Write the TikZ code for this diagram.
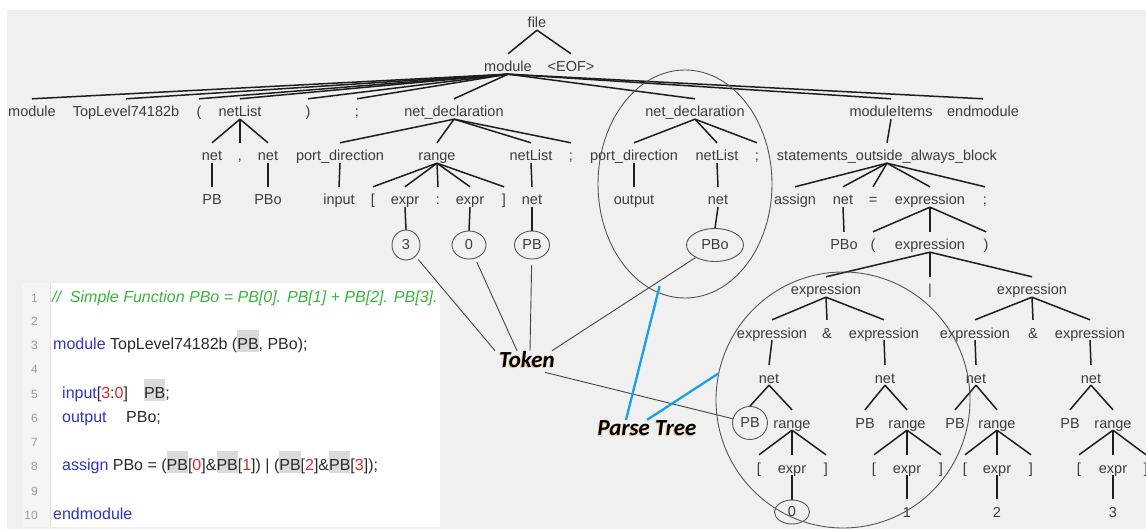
\documentclass[tikz,border=0pt]{standalone}
\usepackage{fontspec}
\setmainfont{Liberation Sans}
\newfontfamily\calibri{Carlito}
\usetikzlibrary{shapes.geometric}

\definecolor{bg}{HTML}{F0F0F0}
\definecolor{ink}{HTML}{3C3C3C}
\definecolor{edge}{HTML}{1E1E1E}
\definecolor{ring}{HTML}{555555}
\definecolor{tokc}{HTML}{444444}
\definecolor{kw}{HTML}{3232C8}
\definecolor{cm}{HTML}{3CB43C}
\definecolor{num}{HTML}{DC2828}
\definecolor{idf}{HTML}{2A2A2A}
\definecolor{lno}{HTML}{9A9A9A}
\definecolor{hlgray}{HTML}{DADADA}
\definecolor{gutter}{HTML}{F5F5F5}
\definecolor{gutline}{HTML}{E2E2E2}
\definecolor{skyline}{HTML}{1BA1E2}
\definecolor{glow}{HTML}{F0A030}

\newcommand\treefont{\fontsize{14.5pt}{17pt}\selectfont}
\newcommand\kwd[1]{\textcolor{kw}{#1}}
\newcommand\nmb[1]{\textcolor{num}{#1}}
\newcommand\hlbox[1]{{\setlength{\fboxsep}{0pt}\colorbox{hlgray}{\rule[-3pt]{0pt}{22pt}#1}}}

\begin{document}
\begin{tikzpicture}[x=1pt,y=1pt,
  tn/.style={anchor=base, inner sep=0pt, text height=18pt, text depth=2pt, text=ink, font=\treefont},
  lf/.style={ellipse, draw=ring, line width=0.9pt, inner sep=0pt, text=ink, font=\treefont},
  group/.style={ellipse, draw=ring, line width=0.9pt, inner sep=0pt},
  tedge/.style={draw=edge, line width=1.5pt},
  tokline/.style={draw=tokc, line width=0.9pt},
  blueline/.style={draw=skyline, line width=2.3pt},
  lbl/.style={anchor=base, inner sep=0pt, font=\calibri\bfseries\itshape\fontsize{23pt}{26pt}\selectfont},
  code/.style={anchor=base west, inner sep=0pt, text=idf, font=\fontsize{16pt}{19pt}\selectfont},
  lnum/.style={anchor=base east, inner sep=0pt, text=lno, font=\fontsize{12pt}{14pt}\selectfont}]

\useasboundingbox (0,0) rectangle (1146,-529);
\clip (0,0) rectangle (1146,-529);

% canvas
\fill[white] (0,0) rectangle (1146,-529);
\fill[bg] (7,-10) rectangle (1146,-529);

% source code panel
\fill[white] (22,-283) rectangle (440,-527);
\fill[gutter] (22,-283) rectangle (50,-527);
\draw[gutline] (50,-283) -- (50,-527);
\foreach \n/\y in {1/303,2/326,3/349,4/373,5/398,6/422,7/446,8/470,9/495,10/519}
  \node[lnum] (ln\n) at (38,-\y) {\n};
\node[code] (cl1) at (52,-303) {\textcolor{cm}{\itshape //\ \ Simple Function PBo = PB[0]. PB[1] + PB[2]. PB[3].}};
\node[code] (cl3) at (53,-349) {\kwd{module} TopLevel74182b (\hlbox{PB}, PBo);};
\node[code] (cl5) at (62,-398) {\kwd{input}[\nmb{3}:\nmb{0}]\hspace{16pt}\hlbox{PB};};
\node[code] (cl6) at (62,-422) {\kwd{output}\hspace{19.5pt}PBo;};
\node[code] (cl8) at (62,-470) {\kwd{assign} PBo = (\hlbox{PB}[\nmb{0}]\&\hlbox{PB}[\nmb{1}]) | (\hlbox{PB}[\nmb{2}]\&\hlbox{PB}[\nmb{3}]);};
\node[code] (cl10) at (53,-519) {\kwd{endmodule}};

% parse tree: labels (positioned on their baselines)
\node[tn] (file) at (537,-28) {file};
\node[tn] (mod) at (508,-72) {module};
\node[tn] (eof) at (571,-72) {<EOF>};

\node[tn] (m0)  at (32,-117) {module};
\node[tn] (top) at (126,-117) {TopLevel74182b};
\node[tn] (lp)  at (199,-117) {(};
\node[tn] (nl)  at (240,-117) {netList};
\node[tn] (rp)  at (308,-117) {)};
\node[tn] (sc0) at (357,-117) {;};
\node[tn] (nd1) at (454,-117) {net\_declaration};
\node[tn] (nd2) at (695,-117) {net\_declaration};
\node[tn] (mi)  at (891,-117) {moduleItems};
\node[tn] (em)  at (983,-117) {endmodule};

\node[tn] (n1)  at (212,-161) {net};
\node[tn] (cm1) at (240,-161) {,};
\node[tn] (n2)  at (268,-161) {net};
\node[tn] (pd1) at (340,-161) {port\_direction};
\node[tn] (rg)  at (437,-161) {range};
\node[tn] (nl1) at (531,-161) {netList};
\node[tn] (sc1) at (571,-161) {;};
\node[tn] (pd2) at (634,-161) {port\_direction};
\node[tn] (nl2) at (717,-161) {netList};
\node[tn] (sc2) at (757,-161) {;};
\node[tn] (sob) at (887,-161) {statements\_outside\_always\_block};

\node[tn] (pb1)  at (212,-205) {PB};
\node[tn] (pbo1) at (268,-205) {PBo};
\node[tn] (inp)  at (339,-205) {input};
\node[tn] (lb)   at (373,-205) {[};
\node[tn] (ex1)  at (405,-205) {expr};
\node[tn] (col)  at (438,-205) {:};
\node[tn] (ex2)  at (470,-205) {expr};
\node[tn] (rb)   at (504,-205) {]};
\node[tn] (nt1)  at (532,-205) {net};
\node[tn] (outp) at (634,-205) {output};
\node[tn] (nt2)  at (718,-205) {net};
\node[tn] (asg)  at (795,-205) {assign};
\node[tn] (nt3)  at (843,-205) {net};
\node[tn] (eq)   at (873,-205) {=};
\node[tn] (xp0)  at (930,-205) {expression};
\node[tn] (sc3)  at (985,-205) {;};

\node[lf, minimum width=28pt, minimum height=30pt] (c3) at (406,-245) {3};
\node[lf, minimum width=34pt, minimum height=28pt] (c0) at (469,-245) {0};
\node[lf, minimum width=35pt, minimum height=28pt] (cpb) at (532,-245) {PB};
\node[lf, minimum width=57pt, minimum height=33pt] (cpbo) at (715,-245) {PBo};
\node[tn] (pbo2) at (844,-250) {PBo};
\node[tn] (lp2)  at (873,-250) {(};
\node[tn] (xp1)  at (930,-250) {expression};
\node[tn] (rp2)  at (986,-250) {)};

\node[tn] (xpa) at (826,-295) {expression};
\node[tn] (bar) at (930,-295) {|};
\node[tn] (xpb) at (1032,-295) {expression};

\node[tn] (xaa) at (772,-338) {expression};
\node[tn] (am1) at (827,-338) {\&};
\node[tn] (xab) at (884,-338) {expression};
\node[tn] (xba) at (975,-338) {expression};
\node[tn] (am2) at (1033,-338) {\&};
\node[tn] (xbb) at (1090,-338) {expression};

\node[tn] (na) at (769,-383) {net};
\node[tn] (nb) at (885,-383) {net};
\node[tn] (nc) at (976,-383) {net};
\node[tn] (nd) at (1091,-383) {net};

\node[lf, minimum width=35pt, minimum height=33pt] (pba) at (750,-423) {PB};
\node[tn] (ra)  at (792,-428) {range};
\node[tn] (pbb) at (865,-428) {PB};
\node[tn] (rb2) at (907,-428) {range};
\node[tn] (pbc) at (955,-428) {PB};
\node[tn] (rc)  at (997,-428) {range};
\node[tn] (pbd) at (1070,-428) {PB};
\node[tn] (rd)  at (1113,-428) {range};

\node[tn] (lba) at (759,-473) {[};
\node[tn] (exa) at (792,-473) {expr};
\node[tn] (rba) at (826,-473) {]};
\node[tn] (lbb) at (874,-473) {[};
\node[tn] (exb) at (907,-473) {expr};
\node[tn] (rbb) at (941,-473) {]};
\node[tn] (lbc) at (965,-473) {[};
\node[tn] (exc) at (997,-473) {expr};
\node[tn] (rbc) at (1031,-473) {]};
\node[tn] (lbd) at (1079,-473) {[};
\node[tn] (exd) at (1113,-473) {expr};
\node[tn] (rbd) at (1146,-473) {]};

\node[lf, minimum width=35pt, minimum height=24pt] (c0b) at (792,-512) {0};
\node[tn] (d1) at (907,-517) {1};
\node[tn] (d2) at (997,-517) {2};
\node[tn] (d3) at (1113,-517) {3};

% parse tree: edges
\foreach \a/\b in {file/mod, file/eof,
    mod/m0, mod/top, mod/lp, mod/nl, mod/rp, mod/sc0, mod/nd1, mod/nd2, mod/mi, mod/em,
    nl/n1, nl/cm1, nl/n2, n1/pb1, n2/pbo1,
    nd1/pd1, nd1/rg, nd1/nl1, nd1/sc1, pd1/inp,
    rg/lb, rg/ex1, rg/col, rg/ex2, rg/rb, ex1/c3, ex2/c0, nl1/nt1, nt1/cpb,
    nd2/pd2, nd2/nl2, nd2/sc2, pd2/outp, nl2/nt2, nt2/cpbo,
    mi/sob, sob/asg, sob/nt3, sob/eq, sob/xp0, sob/sc3, nt3/pbo2,
    xp0/lp2, xp0/xp1, xp0/rp2, xp1/xpa, xp1/bar, xp1/xpb,
    xpa/xaa, xpa/am1, xpa/xab, xpb/xba, xpb/am2, xpb/xbb,
    xaa/na, xab/nb, xba/nc, xbb/nd,
    na/pba, na/ra, nb/pbb, nb/rb2, nc/pbc, nc/rc, nd/pbd, nd/rd,
    ra/lba, ra/exa, ra/rba, rb2/lbb, rb2/exb, rb2/rbb,
    rc/lbc, rc/exc, rc/rbc, rd/lbd, rd/exd, rd/rbd,
    exa/c0b, exb/d1, exc/d2, exd/d3}
  \draw[tedge] (\a.south) -- (\b.north);

% sub-trees singled out
\node[group, minimum width=174pt, minimum height=228pt] (grp1) at (685,-184) {};
\node[group, minimum width=254pt, minimum height=256pt] (grp2) at (843,-400) {};

% callout labels
\node[lbl, text=glow, opacity=0.6] (tokglow) at (526,-368) {Token};
\node[lbl] (tok) at (527,-367) {Token};
\node[lbl, text=glow, opacity=0.6] (ptglow) at (646,-436) {Parse Tree};
\node[lbl] (ptree) at (647,-435) {Parse Tree};

% token pointers
\draw[tokline, shorten <=4pt] (c3) -- ([xshift=-32pt]tok.north);
\draw[tokline, shorten <=4pt] (c0) -- ([xshift=-10pt]tok.north);
\draw[tokline, shorten <=6pt] (cpb) -- ([xshift=3pt]tok.north);
\draw[tokline] (cpbo) -- ([xshift=25pt]tok.north);
\draw[tokline] ([xshift=18pt,yshift=-5pt]tok.south) -- (pba);

% parse tree pointers
\draw[blueline, shorten >=-7pt] ([xshift=-21pt]ptree.north) -- (grp1.-104);
\draw[blueline] ([xshift=0pt]ptree.north) -- (grp2.168);
\end{tikzpicture}
\end{document}
